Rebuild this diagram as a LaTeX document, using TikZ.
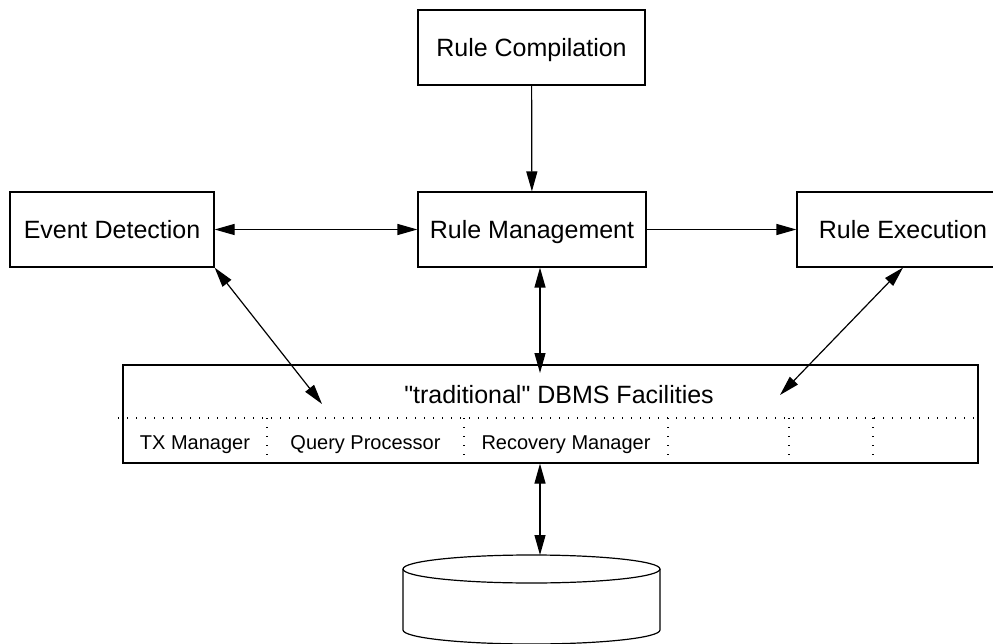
\documentclass[tikz,border=0pt]{standalone}
\usepackage{fontspec}
\setmainfont{Liberation Sans}
% same family without the TeX input mapping, so " stays a straight quote
\newfontfamily\straightsans{Liberation Sans}
\usetikzlibrary{arrows.meta}
\begin{document}
\begin{tikzpicture}[x=1pt,y=-1pt,
  big/.style={font=\fontsize{25}{30}\selectfont, text height=18pt, text depth=0pt},
  box/.style={big, draw, line width=1.2pt, inner sep=0pt, minimum height=75pt},
  link/.style={line width=1.2pt, -{Triangle[length=20pt,width=11pt]}},
  both/.style={line width=1.2pt,
    {Triangle[length=20pt,width=11pt]}-{Triangle[length=20pt,width=11pt]}},
  sep/.style={line width=1.4pt, dash pattern=on 1.4pt off 7.6pt},
  sub/.style={font=\fontsize{20}{24}\selectfont, text height=14.3pt, text depth=0pt,
    inner sep=0pt}]
\clip (0,0) rectangle (993,644);

% component boxes
\node[box, minimum width=227pt] (rc) at (531.5,47.5) {Rule Compilation};
\node[box, minimum width=204pt] (ed) at (112,229.5) {Event Detection};
\node[box, minimum width=228pt] (rm) at (532,229.5) {Rule Management};
\node[box, minimum width=212pt] (re) at (903,229.5) {Rule Execution};

% DBMS facilities block
\node[draw, line width=1.2pt, minimum width=855pt, minimum height=98pt, inner sep=0pt]
  (dbms) at (550.5,414) {};
\node[big, inner sep=0pt] (dbl) at (559,394.5)
  {\straightsans "traditional" DBMS Facilities};
\draw[sep] (118,418) -- (dbms.east |- 0,418);
\foreach \cx in {267,464,668,789,873}
  \draw[sep] (\cx,418) -- (\cx,463);
\node[sub] (tx) at (195,442) {TX Manager};
\node[sub] (qp) at (365.5,442) {Query Processor};
\node[sub] (rcv) at (566,442) {Recovery Manager};

% database cylinder
\draw[line width=1.2pt] (531.5,569) ellipse [x radius=128.5, y radius=14];
\draw[line width=1.2pt] (403,569) -- (403,630)
  .. controls (403,637.7) and (460.5,644) .. (531.5,644)
  .. controls (602.5,644) and (660,637.7) .. (660,630) -- (660,569);
\coordinate (cyl) at (540,555);

% connector end points inside the DBMS block
\coordinate (p1) at (540,373);
\coordinate (p2) at (322,404);
\coordinate (p3) at (780,395);

% connectors
\draw[link] (rc) -- (rm);
\draw[both] (ed) -- (rm);
\draw[link] (rm) -- (re);
\draw[both] (p1 |- rm.south) -- (p1);
\draw[both] (ed.south east) -- (p2);
\draw[both] (re.south) -- (p3);
\draw[both] (cyl |- dbms.south) -- (cyl);
\end{tikzpicture}
\end{document}
